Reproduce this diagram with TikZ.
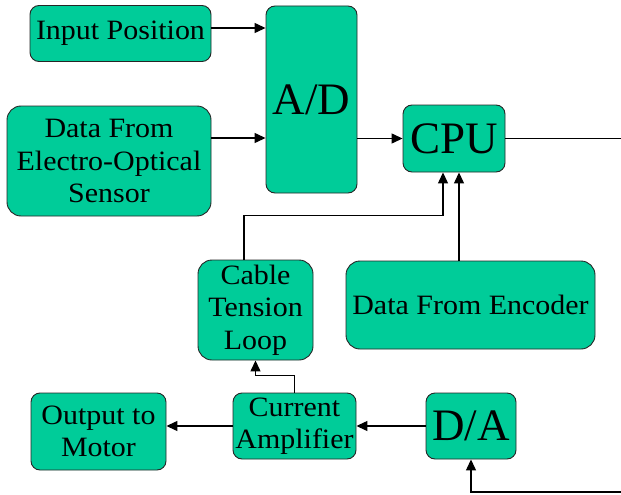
\documentclass[tikz,border=0pt]{standalone}
\usepackage{fontspec}
\setmainfont[FakeStretch=1.07]{Liberation Serif}
\newfontfamily\bigfont{Liberation Serif}
\usetikzlibrary{arrows.meta}
\definecolor{boxgreen}{RGB}{0,204,153}
\tikzset{
  blk/.style={draw=black!85, line width=0.9pt, fill=boxgreen, rounded corners=9pt,
    align=center, inner sep=0pt, font=\fontsize{28}{32.5}\selectfont},
  big/.style={font=\bigfont\fontsize{45}{50}\selectfont},
  arr/.style={line width=1.3pt, -{Triangle[length=11pt,width=10pt]}},
  ln/.style={line width=1.3pt}
}
\begin{document}
\begin{tikzpicture}[x=1pt,y=-1pt]
\useasboundingbox (0,0) rectangle (621,495);
\node[blk, minimum width=181, minimum height=56] (inp) at (120.5,33.5) {Input Position};
\node[blk, minimum width=204, minimum height=110, rounded corners=14pt] (eos) at (109,161) {Data From\\Electro-Optical\\Sensor};
\node[blk, big, minimum width=91, minimum height=187] (ad) at (311.5,99.5) {A/D};
\node[blk, big, minimum width=102, minimum height=67] (cpu) at (454,138.5) {CPU};
\node[blk, minimum width=249, minimum height=88, rounded corners=14pt] (enc) at (470.5,305) {Data From Encoder};
\node[blk, minimum width=115, minimum height=100, rounded corners=14pt] (ctl) at (255.5,310) {Cable\\Tension\\Loop};
\node[blk, minimum width=123, minimum height=66] (amp) at (294.5,426) {Current\\Amplifier};
\node[blk, minimum width=135, minimum height=77] (out) at (98.5,431.5) {Output to\\Motor};
\node[blk, big, minimum width=90, minimum height=66] (da) at (471,426) {D/A};
\coordinate (cpuout) at (621,138.5);
\coordinate (fb) at (621,492);

\draw[arr] ([yshift=5.5pt]inp.east) -- ([yshift=5.5pt]inp.east -| ad.west);
\draw[arr] ([yshift=23pt]eos.east) -- ([yshift=23pt]eos.east -| ad.west);
\draw[arr] (ad.east |- cpu.west) -- (cpu.west);
\draw[ln] (cpu.east) -- (cpuout);
\draw[arr] ([xshift=-11.5pt]ctl.north) -- ++(0,-44) -| ([xshift=-11pt]cpu.south);
\draw[arr] ([xshift=5pt]cpu.south |- enc.north) -- ([xshift=5pt]cpu.south);
\draw[arr] (da.west) -- (amp.east);
\draw[arr] (amp.west) -- (amp.west -| out.east);
\draw[arr] (amp.north) -- ++(0,-17) -| (ctl.south);
\draw[arr] (fb) -| (da.south);
\end{tikzpicture}
\end{document}
